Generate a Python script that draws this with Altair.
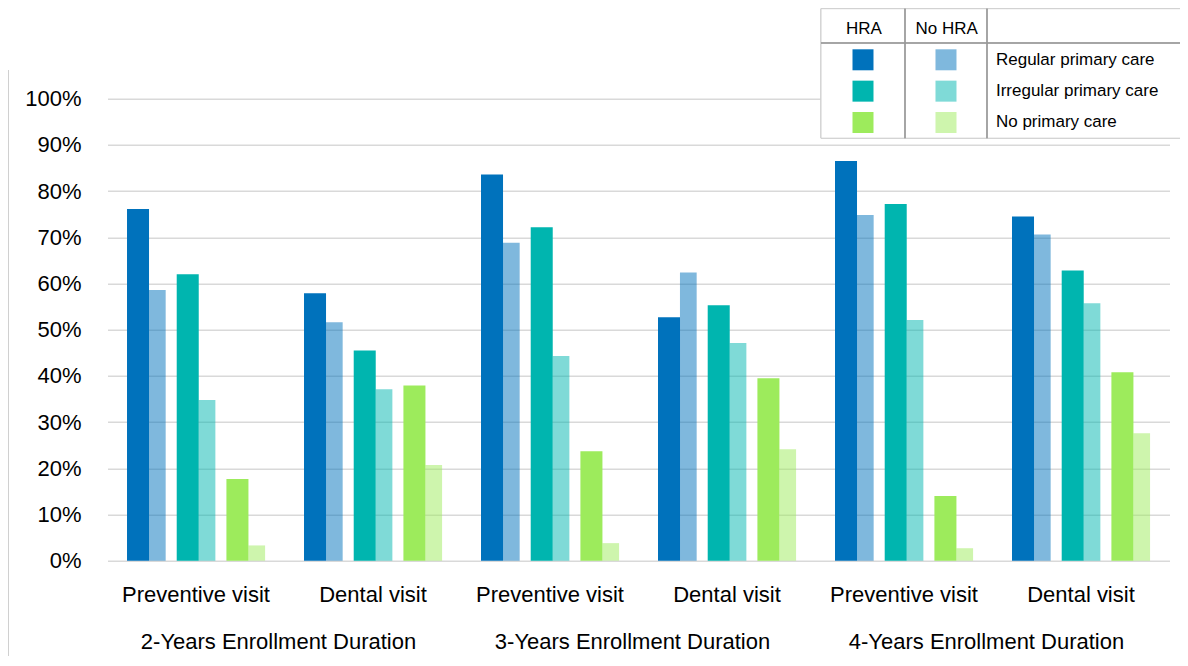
import altair as alt
import pandas as pd

# ---------------- data ----------------
durations = ["2-Years Enrollment Duration", "3-Years Enrollment Duration", "4-Years Enrollment Duration"]
visits = ["Preventive visit", "Dental visit"]
care_types = ["Regular primary care", "Irregular primary care", "No primary care"]
headers = ["HRA", "No HRA"]

# order: duration -> visit -> care type
hra_values = [
    76.1, 62.0, 17.7,   # 2y preventive
    57.9, 45.5, 37.9,   # 2y dental
    83.6, 72.2, 23.7,   # 3y preventive
    52.7, 55.3, 39.5,   # 3y dental
    86.5, 77.2, 14.0,   # 4y preventive
    74.5, 62.8, 40.8,   # 4y dental
]
no_hra_values = [
    58.6, 34.8, 3.3,
    51.6, 37.1, 20.7,
    68.8, 44.3, 3.8,
    62.4, 47.1, 24.1,
    74.8, 52.1, 2.7,
    70.6, 55.7, 27.6,
]
y_ticks = [0, 10, 20, 30, 40, 50, 60, 70, 80, 90, 100]
colors = ["#0072bc", "#00b5af", "#9deb5c"]

keys = []
rows = []
i = 0
for d in durations:
    for v in visits:
        k = d[0] + "|" + v
        keys.append(k)
        for c in care_types:
            rows.append({"key": k, "duration": d, "care": c,
                         "HRA": hra_values[i], "NoHRA": no_hra_values[i]})
            i += 1
df = pd.DataFrame(rows)
group_df = pd.DataFrame({"duration": durations,
                         "key": [d[0] + "|" + visits[0] for d in durations]})
legend_df = pd.DataFrame({"care": care_types})

FONT = "Liberation Sans"

color_scale = alt.Scale(domain=care_types, range=colors)
x_axis = alt.Axis(title=None, labelExpr="split(datum.label, '|')[1]", labelFontSize=22,
                  labelFont=FONT, labelColor="#000", labelAngle=0, ticks=False, tickSize=0,
                  domain=False, grid=False, labelBaseline="alphabetic", labelPadding=41)
x_enc = alt.X("key:N", sort=keys, scale=alt.Scale(domain=keys, paddingInner=0, paddingOuter=0),
              axis=x_axis)
y_enc = alt.Y("val:Q", scale=alt.Scale(domain=[0, 100], nice=False),
              axis=alt.Axis(title=None, values=y_ticks, labelExpr="datum.value + '%'",
                            labelFontSize=22, labelFont=FONT, labelColor="#000",
                            ticks=False, tickSize=0, domain=False, grid=True,
                            gridColor="#d9d9d9", gridWidth=1.5, labelPadding=26.5))

hra = alt.Chart(df).transform_calculate(val="datum.HRA").mark_bar().encode(
    x=x_enc,
    xOffset=alt.XOffset("care:N", sort=care_types,
                        scale=alt.Scale(domain=care_types, paddingInner=0.557,
                                        paddingOuter=0.559, align=0.351)),
    y=y_enc,
    color=alt.Color("care:N", scale=color_scale, legend=None),
)
nohra = alt.Chart(df).transform_calculate(val="datum.NoHRA").mark_bar(opacity=0.5).encode(
    x=x_enc,
    xOffset=alt.XOffset("care:N", sort=care_types,
                        scale=alt.Scale(domain=care_types, paddingInner=0.664,
                                        paddingOuter=0.6125, align=0.681)),
    y=y_enc,
    color=alt.Color("care:N", scale=color_scale, legend=None),
)
groups = alt.Chart(group_df).mark_text(font=FONT, fontSize=22, color="#000", fontWeight="normal",
                                       baseline="alphabetic", align="center", dx=-6).encode(
    x=alt.X("key:N", sort=keys, bandPosition=1),
    y=alt.value(550),
    text="duration:N",
)
main = alt.layer(hra, nohra, groups).resolve_scale(xOffset="independent")

# ---------------- legend table ----------------
box = alt.Chart(legend_df).mark_rect(fill="white", stroke="#cfcfcf", strokeWidth=1).encode(
    x=alt.value(713.5), x2=alt.value(1100), y=alt.value(-90), y2=alt.value(39.5))
hline = alt.Chart(legend_df).mark_rule(color="#9a9a9a", strokeWidth=1).encode(
    x=alt.value(713.5), x2=alt.value(1100), y=alt.value(-55.7))
vline1 = alt.Chart(legend_df).mark_rule(color="#9a9a9a", strokeWidth=1).encode(
    x=alt.value(797.5), y=alt.value(-90), y2=alt.value(39.5))
vline2 = alt.Chart(legend_df).mark_rule(color="#9a9a9a", strokeWidth=1).encode(
    x=alt.value(879.5), y=alt.value(-90), y2=alt.value(39.5))
head_df = pd.DataFrame({"h": headers})
heads = alt.Chart(head_df).mark_text(font=FONT, fontSize=17, color="#000", fontWeight="normal",
                                     baseline="alphabetic", align="center").encode(
    x=alt.X("h:N", sort=headers,
            scale=alt.Scale(type="point", domain=headers, range=[756.5, 839.2], padding=0),
            axis=None),
    y=alt.value(-64.7),
    text="h:N")
leg_y = alt.Y("care:N", sort=care_types,
              scale=alt.Scale(type="point", domain=care_types, range=[-38.9, 23.8], padding=0),
              axis=None)
sq1 = alt.Chart(legend_df).mark_square(size=441, opacity=1).encode(
    x=alt.value(755.5), y=leg_y,
    color=alt.Color("care:N", scale=color_scale, legend=None))
sq2 = alt.Chart(legend_df).mark_square(size=441, opacity=0.5).encode(
    x=alt.value(838.5), y=leg_y,
    color=alt.Color("care:N", scale=color_scale, legend=None))
ltext = alt.Chart(legend_df).mark_text(font=FONT, fontSize=17, color="#000", align="left",
                                       fontWeight="normal", baseline="middle").encode(
    x=alt.value(888.5), y=leg_y, text="care:N")
frame = alt.Chart(legend_df).mark_rule(color="#d0d0d0", strokeWidth=1).encode(
    x=alt.value(-99.2), y=alt.value(-28.7), y2=alt.value(560))

legend = alt.layer(frame, box, hline, vline1, vline2, heads, sq1, sq2, ltext).resolve_scale(
    x="independent")

chart = alt.layer(main, legend).resolve_scale(y="independent", x="independent").properties(
    width=1062, height=462,
    autosize=alt.AutoSizeParams(type="none"),
    padding={"left": 99.5, "top": 90.7, "right": 10, "bottom": 95},
).configure_view(stroke=None)

chart.save("out.html", embed_options={"renderer": "svg", "actions": False})
